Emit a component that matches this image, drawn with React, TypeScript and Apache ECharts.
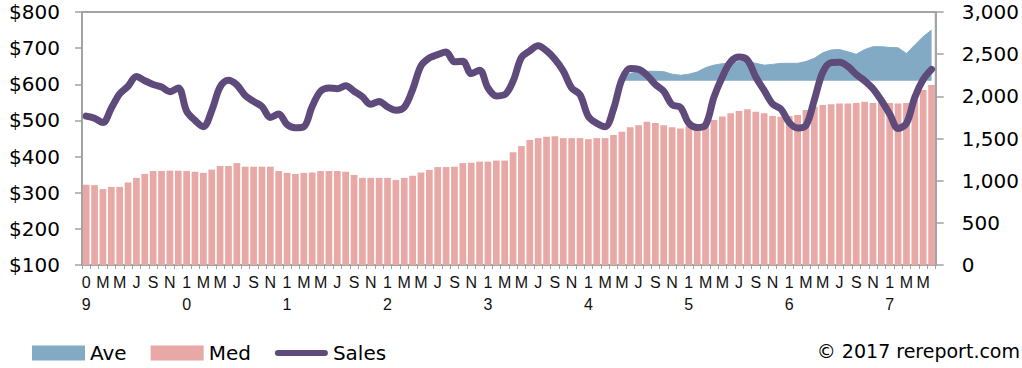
import React, { useEffect, useRef } from "react";
import * as echarts from "echarts";

// Monthly series, Jan 2009 through Jun 2017
const YEARS = [2009, 2010, 2011, 2012, 2013, 2014, 2015, 2016, 2017];
const MONTH_COUNT = 102;
const MONTH_LETTERS = ["J", "F", "M", "A", "M", "J", "J", "A", "S", "O", "N", "D"];

const CATEGORIES: string[] = [];
for (const y of YEARS) {
  for (let m = 1; m <= 12; m++) {
    if (CATEGORIES.length < MONTH_COUNT) CATEGORIES.push(`${y}-${String(m).padStart(2, "0")}`);
  }
}

// Median price ($, left axis)
const MED = [
  322, 321, 310, 316, 316, 328, 341, 352, 360, 360, 361, 361,
  360, 358, 355, 364, 374, 374, 382, 372, 372, 372, 372, 360,
  355, 352, 355, 356, 360, 360, 360, 358, 349, 341, 341, 341,
  341, 335, 341, 347, 356, 363, 371, 371, 372, 382, 383, 386,
  386, 389, 389, 412, 429, 446, 451, 455, 456, 451, 451, 451,
  448, 451, 451, 460, 469, 481, 487, 496, 493, 487, 481, 478,
  484, 487, 492, 501, 511, 520, 526, 531, 524, 520, 512, 510,
  512, 515, 529, 538, 543, 545, 547, 547, 548, 552, 548, 548,
  548, 547, 548, 561, 584, 598,
];

// Average price ($, left axis), reported from Apr 2014
const AVE = [
  null, null, null, null, null, null, null, null, null, null, null, null,
  null, null, null, null, null, null, null, null, null, null, null, null,
  null, null, null, null, null, null, null, null, null, null, null, null,
  null, null, null, null, null, null, null, null, null, null, null, null,
  null, null, null, null, null, null, null, null, null, null, null, null,
  null, null, null, null, 620, 630, 635, 636, 636, 635, 628, 625,
  628, 634, 646, 653, 657, 658, 663, 664, 658, 653, 655, 658,
  658, 658, 663, 672, 687, 695, 696, 690, 683, 696, 704, 704,
  702, 701, 685, 709, 732, 750,
];
const AVE_BASE = 610;

// Sales count (right axis)
const SALES = [
  1765, 1740, 1690, 1860, 2030, 2120, 2235, 2185, 2140, 2110, 2055, 2100,
  1825, 1715, 1640, 1830, 2110, 2190, 2135, 2010, 1940, 1880, 1750, 1790,
  1665, 1628, 1640, 1880, 2060, 2100, 2090, 2125, 2060, 1995, 1905, 1940,
  1875, 1835, 1870, 2080, 2360, 2455, 2495, 2525, 2410, 2415, 2270, 2310,
  2100, 2005, 2020, 2180, 2460, 2540, 2600, 2540, 2440, 2300, 2100, 2020,
  1760, 1680, 1640, 1850, 2200, 2330, 2320, 2250, 2140, 2060, 1900, 1870,
  1680, 1630, 1660, 1990, 2230, 2410, 2465, 2430, 2230, 2070, 1910, 1850,
  1690, 1625, 1655, 1960, 2285, 2400, 2405, 2355, 2260, 2185, 2090, 1950,
  1790, 1620, 1680, 1990, 2200, 2320,
];

const COLOR_AVE = "#82aac5";
const COLOR_MED = "#e8a8a6";
const COLOR_SALES = "#5f4b7b";
const AXIS_GRAY = "#a3a3a3";
const FONT = "'DejaVu Sans', sans-serif";

// Thick rounded stroke used as the Sales legend key
const SALES_KEY = "path://M3,0 L50,0 A3,3 0 0 1 50,6 L3,6 A3,3 0 0 1 3,0 Z";

export default function App() {
  const ref = useRef<HTMLDivElement>(null);

  useEffect(() => {
    if (!ref.current) return;
    const chart = echarts.init(ref.current, null, { renderer: "svg" });
    chart.setOption({
      animation: false,
      backgroundColor: "#ffffff",
      grid: {
        left: 82,
        right: 85,
        top: 12,
        bottom: 103,
        show: true,
        borderColor: AXIS_GRAY,
        borderWidth: 2,
      },
      legend: {
        left: 32,
        top: 341,
        padding: 0,
        itemWidth: 53,
        itemHeight: 15,
        itemGap: 24,
        textStyle: { fontSize: 20, lineHeight: 24, fontFamily: FONT, color: "#000" },
        data: [
          { name: "Ave", icon: "rect" },
          { name: "Med", icon: "rect" },
          { name: "Sales", icon: SALES_KEY },
        ],
      },
      graphic: [
        {
          type: "text",
          right: 2,
          top: 341,
          style: {
            text: "\u00a9 2017 rereport.com",
            font: `19px ${FONT}`,
            fill: "#000",
          },
        },
      ],
      xAxis: {
        type: "category",
        data: CATEGORIES,
        boundaryGap: true,
        axisLine: { lineStyle: { color: AXIS_GRAY, width: 2 } },
        axisTick: { show: true, interval: 0, length: 4, lineStyle: { color: AXIS_GRAY } },
        axisLabel: {
          interval: 1,
          margin: 6,
          fontSize: 16,
          lineHeight: 22,
          fontFamily: "'Liberation Sans Narrow', 'Liberation Sans', sans-serif",
          color: "#111",
          formatter: (value: string) => {
            const [y, m] = value.split("-");
            if (m === "01") return `${y[2]}\n${y[3]}`;
            return MONTH_LETTERS[Number(m) - 1];
          },
        },
        splitLine: { show: false },
      },
      yAxis: [
        {
          type: "value",
          min: 100,
          max: 800,
          interval: 100,
          position: "left",
          axisLine: { show: true, lineStyle: { color: AXIS_GRAY, width: 2 } },
          axisTick: { show: true, length: 7, lineStyle: { color: AXIS_GRAY, width: 1.5 } },
          splitLine: { show: false },
          axisLabel: {
            margin: 22,
            fontSize: 20,
            fontFamily: FONT,
            color: "#000",
            formatter: (v: number) => `$${v}`,
          },
        },
        {
          type: "value",
          min: 0,
          max: 3000,
          interval: 500,
          position: "right",
          axisLine: { show: true, lineStyle: { color: AXIS_GRAY, width: 2 } },
          axisTick: { show: true, length: 8, lineStyle: { color: AXIS_GRAY, width: 1.5 } },
          splitLine: { show: false },
          axisLabel: {
            margin: 26,
            fontSize: 20,
            fontFamily: FONT,
            color: "#000",
            formatter: (v: number) => v.toLocaleString("en-US"),
          },
        },
      ],
      series: [
        {
          name: "Ave",
          type: "line",
          data: AVE,
          yAxisIndex: 0,
          symbol: "none",
          connectNulls: false,
          itemStyle: { color: COLOR_AVE },
          lineStyle: { width: 1, color: COLOR_AVE },
          areaStyle: { color: COLOR_AVE, opacity: 1, origin: AVE_BASE },
          z: 1,
        },
        {
          name: "Med",
          type: "bar",
          data: MED,
          yAxisIndex: 0,
          barCategoryGap: "20%",
          itemStyle: { color: COLOR_MED },
          z: 2,
        },
        {
          name: "Sales",
          type: "line",
          data: SALES,
          yAxisIndex: 1,
          smooth: 0.35,
          symbol: "none",
          itemStyle: { color: COLOR_SALES },
          lineStyle: { width: 7, color: COLOR_SALES, cap: "round", join: "round" },
          z: 3,
        },
      ],
    });
    return () => chart.dispose();
  }, []);

  return (
    <div
      ref={ref}
      style={{ position: "fixed", left: 0, top: 0, width: 1022, height: 368, background: "#fff" }}
    />
  );
}
